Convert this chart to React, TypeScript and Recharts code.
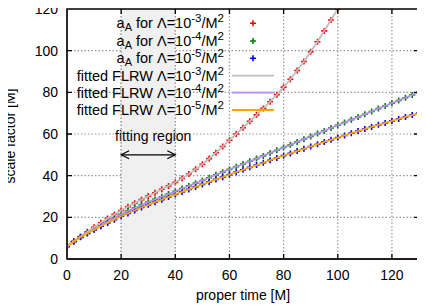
import React from "react";
import { ComposedChart, ReferenceArea, Scatter, XAxis, YAxis } from "recharts";

// proper time [M]
const times = [
  0, 2.5, 5, 7.5, 10, 12.5, 15, 17.5, 20, 22.5, 25, 27.5, 30, 32.5, 35, 37.5,
  40, 42.5, 45, 47.5, 50, 52.5, 55, 57.5, 60, 62.5, 65, 67.5, 70, 72.5, 75,
  77.5, 80, 82.5, 85, 87.5, 90, 92.5, 95, 97.5, 100, 102.5, 105, 107.5, 110,
  112.5, 115, 117.5, 120, 122.5, 125, 127.5, 130,
];

// scale factor a_A, Lambda = 1e-3
const lambda3 = [
  6.0, 8.5, 10.8, 13.1, 15.2, 17.4, 19.5, 21.4, 23.3, 25.1, 26.8, 28.5, 30.2,
  31.8, 33.5, 35.1, 36.8, 38.7, 40.8, 43.1, 45.5, 48.2, 51.0, 54.0, 57.0, 60.0,
  63.0, 66.1, 69.2, 72.3, 75.5, 78.9, 82.5, 86.3, 90.5, 94.8, 99.5, 104.3,
  109.5, 114.7, 120.0,
];

// Lambda = 1e-4
const lambda4 = [
  6.0, 8.4, 10.6, 12.5, 14.2, 16.1, 17.9, 19.7, 21.5, 23.0, 24.5, 25.9, 27.3,
  28.6, 29.9, 31.2, 32.5, 33.8, 35.1, 36.4, 37.7, 39.0, 40.4, 41.7, 43.0, 44.3,
  45.6, 46.9, 48.2, 49.5, 50.9, 52.2, 53.5, 54.8, 56.2, 57.5, 58.8, 60.2, 61.5,
  62.9, 64.2, 65.5, 66.9, 68.2, 69.5, 70.8, 72.2, 73.5, 74.8, 76.1, 77.4, 78.7,
  80.0,
];

// Lambda = 1e-5
const lambda5 = [
  6.0, 8.3, 10.4, 12.3, 14.0, 15.7, 17.3, 18.9, 20.5, 21.9, 23.3, 24.7, 26.0,
  27.3, 28.5, 29.8, 31.0, 32.2, 33.4, 34.6, 35.8, 37.0, 38.2, 39.3, 40.5, 41.7,
  42.8, 44.0, 45.1, 46.2, 47.4, 48.5, 49.6, 50.7, 51.8, 52.9, 54.0, 55.1, 56.2,
  57.2, 58.3, 59.3, 60.4, 61.4, 62.4, 63.4, 64.4, 65.3, 66.3, 67.2, 68.2, 69.1,
  70.0,
];

const xDomain = [0, 130];
const yDomain = [0, 120];
const xTicks = [0, 20, 40, 60, 80, 100, 120];
const yTicks = [0, 20, 40, 60, 80, 100, 120];
const fitRegion = [20, 40];
const fitArrowY = 50;

const exps = ["-3", "-4", "-5"];

const FONT = "'Liberation Sans', Arial, sans-serif";
const RED = "#ff0000";
const GREEN = "#008000";
const BLUE = "#0000ff";
const GRAY = "#bebebe";
const PURPLE = "#b88cf4";
const ORANGE = "#ffa500";
const GRID = "#999999";
const TICK = 5;

// plot box (matches chart margin + axis sizes below)
const W = 425;
const H = 306;
const M = { top: 9, right: 6, left: 67, bottom: 47 };
const PL = M.left;
const PR = W - M.right;
const PT = M.top;
const PB = H - M.bottom;
const gx = (t: number) => PL + ((t - xDomain[0]) / (xDomain[1] - xDomain[0])) * (PR - PL);
const gy = (v: number) => PB - ((v - yDomain[0]) / (yDomain[1] - yDomain[0])) * (PB - PT);

const rowsOf = (vals: number[]) => vals.map((v, i) => ({ t: times[i], v }));

const plus = (color: string) => (p: any) => {
  if (p.cx == null || p.cy == null || isNaN(p.cy)) return <g />;
  return (
    <path
      d={`M${p.cx - 3},${p.cy}h6M${p.cx},${p.cy - 3}v6`}
      stroke={color}
      strokeWidth={1.6}
      fill="none"
    />
  );
};
const noShape = () => <g />;

const RegionShape = (p: any) => (
  <rect x={p.x} y={p.y} width={p.width} height={p.height} fill="#f0f0f0" />
);

const ArrowShape = (p: any) => {
  const x1 = p.x;
  const x2 = p.x + p.width;
  const y = p.y;
  return (
    <g>
      <line x1={x1} y1={y} x2={x2} y2={y} stroke="#000" strokeWidth={1.2} />
      <path d={`M${x1 + 8},${y - 4}L${x1},${y}L${x1 + 8},${y + 4}`} stroke="#000" strokeWidth={1.2} fill="none" />
      <path d={`M${x2 - 8},${y - 4}L${x2},${y}L${x2 - 8},${y + 4}`} stroke="#000" strokeWidth={1.2} fill="none" />
      <text x={(x1 + x2) / 2 + 5} y={y - 14} textAnchor="middle" fontSize={14} fontFamily={FONT} fill="#000">
        fitting region
      </text>
    </g>
  );
};

const tickStyle = { fontSize: 14, fontFamily: FONT, fill: "#000" };

const LegendText = ({ y, fitted, e }: { y: number; fitted: boolean; e: string }) => (
  <text x={224} y={y + 5} textAnchor="end" fontSize={14.5} fontFamily={FONT} fill="#000">
    {fitted ? (
      <tspan>fitted FLRW Λ=10</tspan>
    ) : (
      <>
        <tspan>a</tspan>
        <tspan fontSize={11} dy={3}>A</tspan>
        <tspan dy={-3}> for Λ=10</tspan>
      </>
    )}
    <tspan fontSize={11.5} dy={-6}>{e}</tspan>
    <tspan dy={6}>/M</tspan>
    <tspan fontSize={11.5} dy={-6}>2</tspan>
  </text>
);

const legendRows = [23.3, 41, 58.3, 75.7, 92.7, 110];

const layer = { position: "absolute" as const, left: 0, top: 0, pointerEvents: "none" as const };

export default function App() {
  return (
    <div style={{ position: "relative", width: W, height: H, margin: "-8px 0 0 -8px" }}>
      {/* grid under the chart */}
      <svg width={W} height={H} style={layer}>
        {yTicks.slice(1, -1).map((v) => (
          <path
            key={`h${v}`}
            d={`M${PL},${gy(v)}H${PR}`}
            stroke={GRID}
            strokeWidth={1.2}
            strokeDasharray="1.5 2"
            fill="none"
          />
        ))}
        {xTicks.slice(1).map((t) => (
          <path
            key={`v${t}`}
            d={`M${gx(t)},${PT}V${PB}`}
            stroke={GRID}
            strokeWidth={1.2}
            strokeDasharray="1.5 2"
            fill="none"
          />
        ))}
      </svg>
      <ComposedChart
        width={W}
        height={H}
        margin={{ top: M.top, right: M.right, bottom: 0, left: 0 }}
      >
        <XAxis
          dataKey="t"
          type="number"
          domain={xDomain}
          ticks={xTicks}
          allowDataOverflow
          height={M.bottom}
          tick={tickStyle}
          tickLine={false}
          tickSize={0}
          tickMargin={11}
          stroke="#000"
        />
        <YAxis
          type="number"
          domain={yDomain}
          ticks={yTicks}
          allowDataOverflow
          width={M.left}
          tick={tickStyle}
          tickLine={false}
          tickSize={0}
          tickMargin={9}
          stroke="#000"
        />
        <ReferenceArea x1={fitRegion[0]} x2={fitRegion[1]} y1={yDomain[0]} y2={yDomain[1]} shape={RegionShape} />
        <ReferenceArea
          x1={fitRegion[0]}
          x2={fitRegion[1]}
          y1={fitArrowY}
          y2={fitArrowY}
          shape={ArrowShape}
        />
        <Scatter data={rowsOf(lambda3)} dataKey="v" shape={plus(RED)} isAnimationActive={false} />
        <Scatter data={rowsOf(lambda4)} dataKey="v" shape={plus(GREEN)} isAnimationActive={false} />
        <Scatter data={rowsOf(lambda5)} dataKey="v" shape={plus(BLUE)} isAnimationActive={false} />
        <Scatter
          data={rowsOf(lambda3)}
          dataKey="v"
          shape={noShape}
          line={{ stroke: GRAY, strokeWidth: 1.8 }}
          lineJointType="monotoneX"
          isAnimationActive={false}
        />
        <Scatter
          data={rowsOf(lambda4)}
          dataKey="v"
          shape={noShape}
          line={{ stroke: PURPLE, strokeWidth: 1.8 }}
          lineJointType="monotoneX"
          isAnimationActive={false}
        />
        <Scatter
          data={rowsOf(lambda5)}
          dataKey="v"
          shape={noShape}
          line={{ stroke: ORANGE, strokeWidth: 1.8 }}
          lineJointType="monotoneX"
          isAnimationActive={false}
        />
      </ComposedChart>
      {/* border, inward ticks, legend, axis titles */}
      <svg width={W} height={H} style={layer}>
        {fitRegion.map((t) => (
          <path
            key={`r${t}`}
            d={`M${gx(t)},${PT}V${PB}`}
            stroke={GRID}
            strokeWidth={1.2}
            strokeDasharray="1.5 2"
            fill="none"
          />
        ))}
        <path
          d={`M${PL},${PT}H${PR}V${PB}H${PL}Z`}
          fill="none"
          stroke="#000"
          strokeWidth={1.3}
        />
        {xTicks.slice(1).map((t) => (
          <path
            key={`xt${t}`}
            d={`M${gx(t)},${PB}v${-TICK}M${gx(t)},${PT}v${TICK}`}
            stroke="#000"
            strokeWidth={1.3}
            fill="none"
          />
        ))}
        {yTicks.slice(1, -1).map((v) => (
          <path
            key={`yt${v}`}
            d={`M${PL},${gy(v)}h${TICK}M${PR},${gy(v)}h${-TICK}`}
            stroke="#000"
            strokeWidth={1.3}
            fill="none"
          />
        ))}
        {exps.map((e, i) => (
          <g key={`a${i}`}>
            <LegendText y={legendRows[i]} fitted={false} e={e} />
            {plus([RED, GREEN, BLUE][i])({ cx: 253, cy: legendRows[i] })}
          </g>
        ))}
        {exps.map((e, i) => (
          <g key={`f${i}`}>
            <LegendText y={legendRows[i + 3]} fitted e={e} />
            <line
              x1={232}
              x2={274}
              y1={legendRows[i + 3]}
              y2={legendRows[i + 3]}
              stroke={[GRAY, PURPLE, ORANGE][i]}
              strokeWidth={1.8}
            />
          </g>
        ))}
        <text
          transform="translate(10,136) rotate(-90)"
          textAnchor="middle"
          dominantBaseline="central"
          fontSize={14}
          fontFamily={FONT}
          fill="#000"
        >
          scale factor [M]
        </text>
        <text x={243} y={300} textAnchor="middle" fontSize={14} fontFamily={FONT} fill="#000">
          proper time [M]
        </text>
      </svg>
    </div>
  );
}
